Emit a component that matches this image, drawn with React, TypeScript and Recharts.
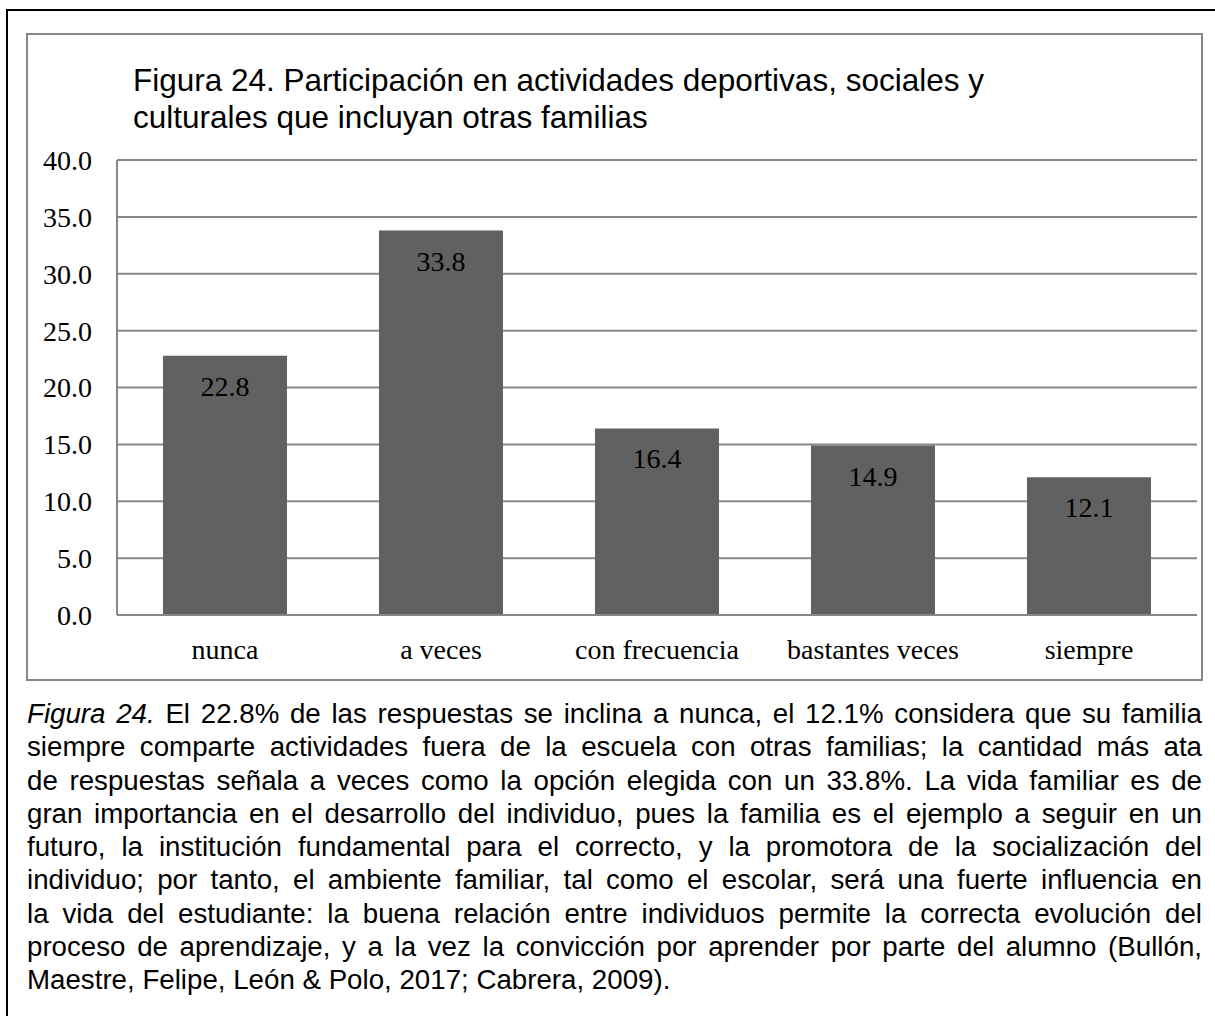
import React from "react";
import { BarChart, Bar, XAxis, YAxis, CartesianGrid, LabelList } from "recharts";

const categories = ["nunca", "a veces", "con frecuencia", "bastantes veces", "siempre"];
const values = [22.8, 33.8, 16.4, 14.9, 12.1];
const yTicks = [0, 5, 10, 15, 20, 25, 30, 35, 40];

const titleLines = [
  "Figura 24. Participación en actividades deportivas, sociales y",
  "culturales que incluyan otras familias",
];

const captionLines = [
  "El 22.8% de las respuestas se inclina a nunca, el 12.1% considera que su familia",
  "siempre comparte actividades fuera de la escuela con otras familias; la cantidad más ata",
  "de respuestas señala a veces como la opción elegida con un 33.8%. La vida familiar es de",
  "gran importancia en el desarrollo del individuo, pues la familia es el ejemplo a seguir en un",
  "futuro, la institución fundamental para el correcto, y la promotora de la socialización del",
  "individuo; por tanto, el ambiente familiar, tal como el escolar, será una fuerte influencia en",
  "la vida del estudiante: la buena relación entre individuos permite la correcta evolución del",
  "proceso de aprendizaje, y a la vez la convicción por aprender por parte del alumno (Bullón,",
  "Maestre, Felipe, León & Polo, 2017; Cabrera, 2009).",
];

const data = categories.map((c, i) => ({ name: c, value: values[i] }));

const serif = "'Liberation Serif', 'Times New Roman', serif";
const sans = "'Liberation Sans', Arial, sans-serif";
const gridColor = "#878787";

const BarLabel = (props: any) => {
  const { x, y, width, value } = props;
  return (
    <text
      x={x + width / 2}
      y={y + 40}
      textAnchor="middle"
      fill="#000"
      fontFamily={serif}
      fontSize={28}
    >
      {Number(value).toFixed(1)}
    </text>
  );
};

export default function App() {
  return (
    <div
      style={{
        position: "absolute",
        left: 0,
        top: 0,
        width: 1215,
        height: 1016,
        overflow: "hidden",
        background: "#fff",
      }}
    >
      <div
        style={{
          position: "absolute",
          left: 6,
          top: 9,
          width: 1300,
          height: 1100,
          border: "2px solid #000",
          boxSizing: "border-box",
        }}
      />
      <div
        style={{
          position: "absolute",
          left: 26,
          top: 33,
          width: 1177,
          height: 648,
          border: `2px solid ${gridColor}`,
          boxSizing: "border-box",
          background: "#fff",
        }}
      >
        <BarChart
          width={1173}
          height={644}
          data={data}
          margin={{ top: 125, right: 4, bottom: 0, left: 0 }}
          barCategoryGap={46}
        >
          <CartesianGrid vertical={false} stroke={gridColor} strokeWidth={2} />
          <XAxis
            dataKey="name"
            height={64}
            tickSize={0}
            tickMargin={24}
            axisLine={{ stroke: gridColor, strokeWidth: 2 }}
            tickLine={false}
            tick={{ fill: "#000", fontFamily: serif, fontSize: 28 }}
            interval={0}
          />
          <YAxis
            width={89}
            domain={[0, 40]}
            ticks={yTicks}
            tickFormatter={(v: number) => v.toFixed(1)}
            tickSize={0}
            tickMargin={25}
            axisLine={{ stroke: gridColor, strokeWidth: 2 }}
            tickLine={false}
            tick={{ fill: "#000", fontFamily: serif, fontSize: 28 }}
            interval={0}
          />
          <Bar dataKey="value" fill="#616161" isAnimationActive={false}>
            <LabelList dataKey="value" content={BarLabel} />
          </Bar>
        </BarChart>
      </div>
      <div
        style={{
          position: "absolute",
          left: 133,
          top: 62,
          fontFamily: sans,
          fontSize: 31.5,
          lineHeight: "37px",
          color: "#000",
          whiteSpace: "nowrap",
        }}
      >
        {titleLines.map((l, i) => (
          <div key={i}>{l}</div>
        ))}
      </div>
      <div
        style={{
          position: "absolute",
          left: 27,
          top: 697,
          width: 1175,
          fontFamily: sans,
          fontSize: 27.7,
          lineHeight: "33.3px",
          color: "#000",
        }}
      >
        {captionLines.map((l, i) => (
          <div
            key={i}
            style={{
              whiteSpace: "nowrap",
              textAlign: "justify",
              textAlignLast: i < captionLines.length - 1 ? "justify" : "left",
            } as React.CSSProperties}
          >
            {i === 0 ? (
              <>
                <i>Figura 24.</i> {l}
              </>
            ) : (
              l
            )}
          </div>
        ))}
      </div>
    </div>
  );
}
